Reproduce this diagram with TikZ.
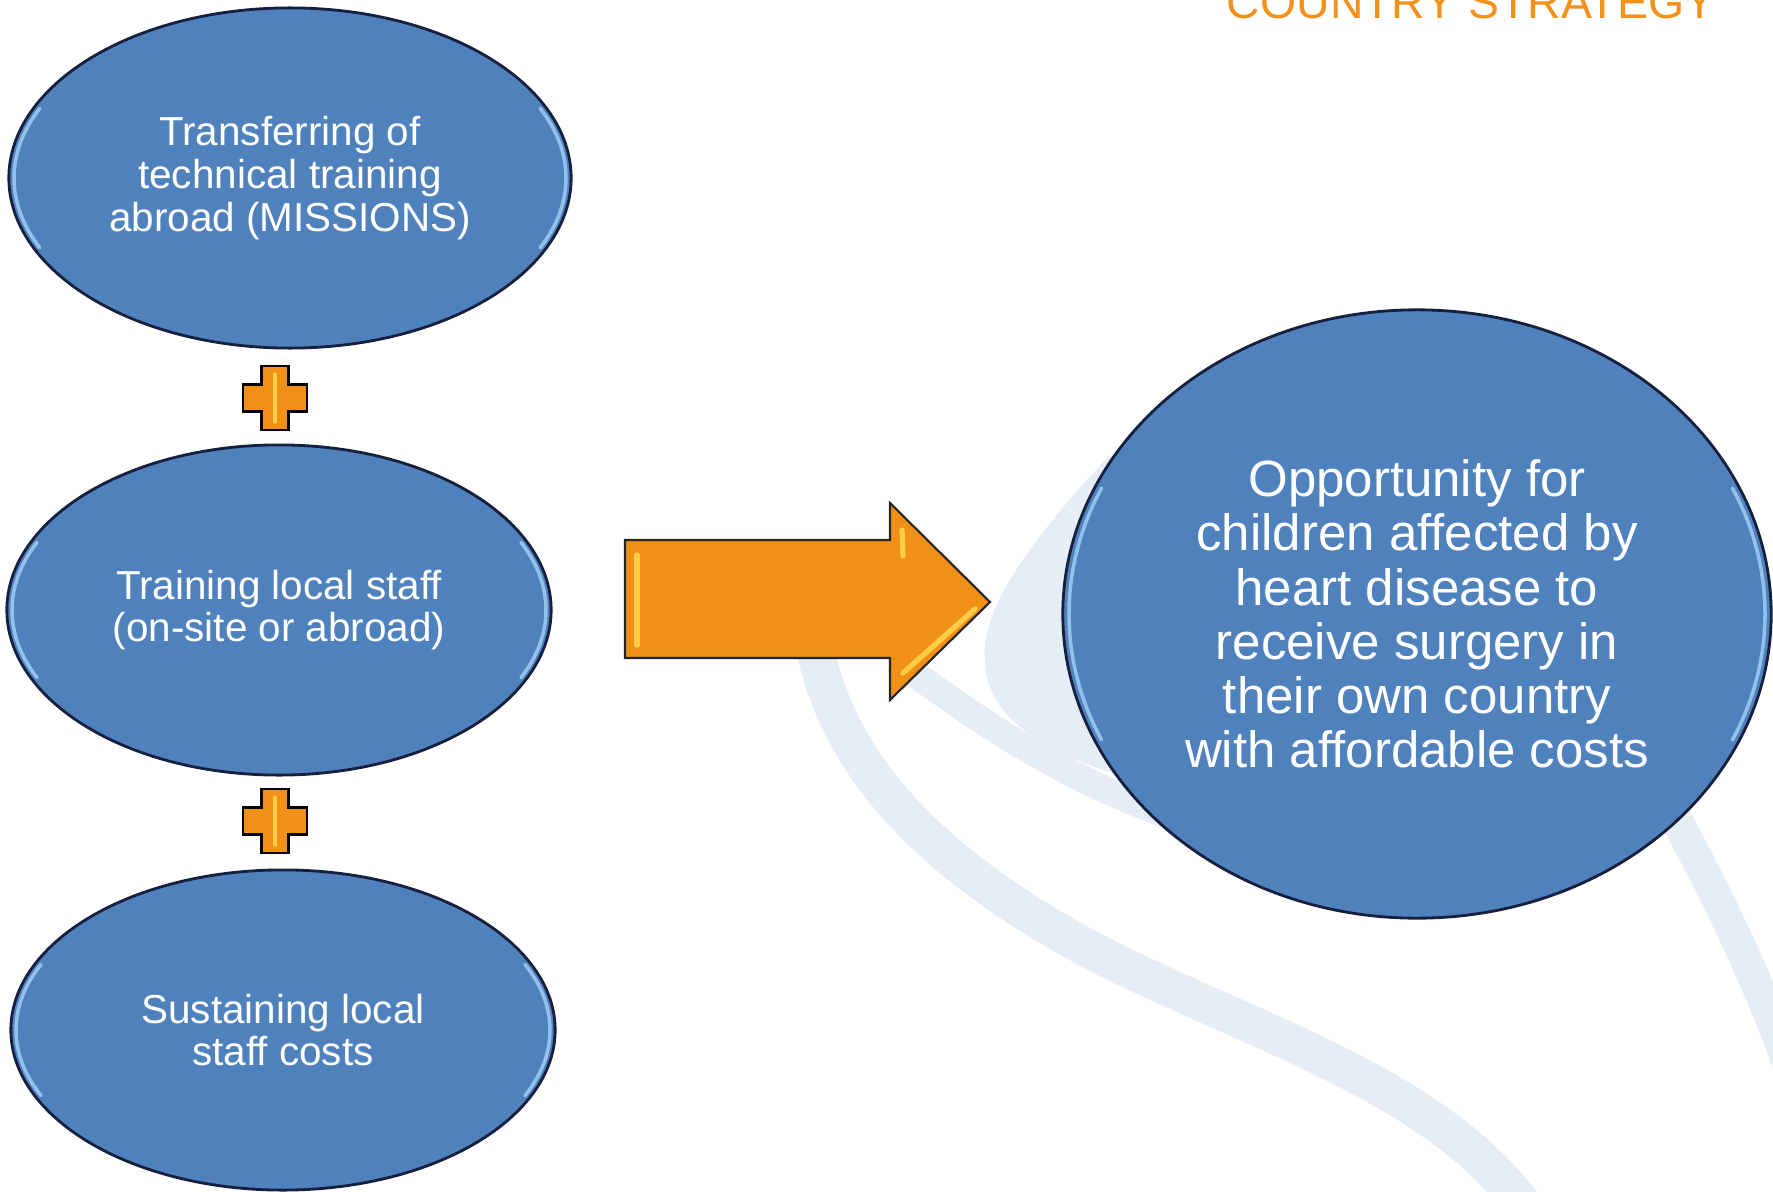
\documentclass[tikz,border=0pt]{standalone}
\usepackage{fontspec}
\setmainfont{Liberation Sans}
\usetikzlibrary{shapes.geometric}

\definecolor{bubbleblue}{RGB}{79,129,189}
\definecolor{bubbleedge}{RGB}{22,32,62}
\definecolor{rimblue}{RGB}{160,205,245}
\definecolor{arroworange}{RGB}{240,144,22}
\definecolor{titleorange}{RGB}{242,146,26}
\definecolor{glint}{RGB}{255,205,70}
\definecolor{swoosh}{RGB}{230,237,245}

\tikzset{
  bubble/.style={ellipse,draw=bubbleedge,line width=0.8pt,fill=bubbleblue,text=white,
    align=center,inner sep=0pt,font=\fontsize{11.5}{12.2}\selectfont},
  rim/.style={rimblue,line width=1pt,line cap=round,opacity=0.85},
  band/.style={swoosh,line width=0.38cm},
  plussign/.style={fill=arroworange,draw=black,line width=0.7pt,line join=miter},
}

\begin{document}
\begin{tikzpicture}[x=0.01cm,y=-0.01cm]
\useasboundingbox (0,0) rectangle (1773,1191);
\clip (0,0) rectangle (1773,1191);

%background swooshes
\fill[swoosh] (1110,455) .. controls (1030,540) and (980,610) .. (985,660) .. controls (985,720) and (1050,760) .. (1170,790) -- (1300,650) -- cycle;
\draw[band,line width=0.27cm] (895,660) .. controls (960,705) and (1040,770) .. (1180,820);
\draw[band] (812,630) .. controls (830,760) and (930,870) .. (1120,965) .. controls (1300,1050) and (1460,1100) .. (1540,1230);
\draw[band,line width=0.32cm] (1660,790) .. controls (1710,880) and (1770,1000) .. (1800,1100);

\node[titleorange,font=\fontsize{13.2}{15}\selectfont,anchor=base] (title) at (1471,19) {COUNTRY STRATEGY};

%left column
\node[bubble,minimum width=5.62cm,minimum height=3.40cm] (transfer) at (290,178) {Transferring of\\technical training\\abroad (MISSIONS)};
\node[bubble,minimum width=5.44cm,minimum height=3.30cm] (training) at (279,610) {Training local staff\\(on-site or abroad)};
\node[bubble,minimum width=5.44cm,minimum height=3.20cm] (sustain) at (283,1030) {Sustaining local\\staff costs};

%outcome
\node[bubble,minimum width=7.08cm,minimum height=6.08cm,font=\fontsize{14.5}{15.4}\selectfont] (outcome) at (1417,614) {Opportunity for\\children affected by\\heart disease to\\receive surgery in\\their own country\\with affordable costs};

\foreach \n/\a/\b in {transfer/276/165,training/267/160,sustain/267/155,outcome/348/298}{
\draw[rim] (\n.center) ++(155:{\a} and {\b}) arc[start angle=155,end angle=205,x radius=\a,y radius=\b];
\draw[rim] (\n.center) ++(-25:{\a} and {\b}) arc[start angle=-25,end angle=25,x radius=\a,y radius=\b];}

%plus signs
\coordinate (plusA) at (275,398);
\coordinate (plusB) at (275,821);
\foreach \c in {plusA,plusB}{
\draw[plussign] (\c) ++(-13.5,-32) -- ++(27,0) -- ++(0,18.5) -- ++(18.5,0) -- ++(0,27) -- ++(-18.5,0) -- ++(0,18.5) -- ++(-27,0) -- ++(0,-18.5) -- ++(-18.5,0) -- ++(0,-27) -- ++(18.5,0) -- cycle;
\draw[glint,line width=1pt,line cap=round] (\c) ++(0,-24) -- ++(0,48);}

%big arrow
\draw[fill=arroworange,draw=black!85,line width=0.6pt,line join=miter] (625,540) -- (890,540) -- (890,503) -- (990,602) -- (890,700) -- (890,658) -- (625,658) -- cycle;
\draw[glint,line width=1.5pt,line cap=round] (637,555) -- (637,645);
\draw[glint,line width=1.5pt,line cap=round] (902,530) -- (903,556);
\draw[glint,line width=1.5pt,line cap=round] (903,673) -- (975,609);

\end{tikzpicture}
\end{document}
